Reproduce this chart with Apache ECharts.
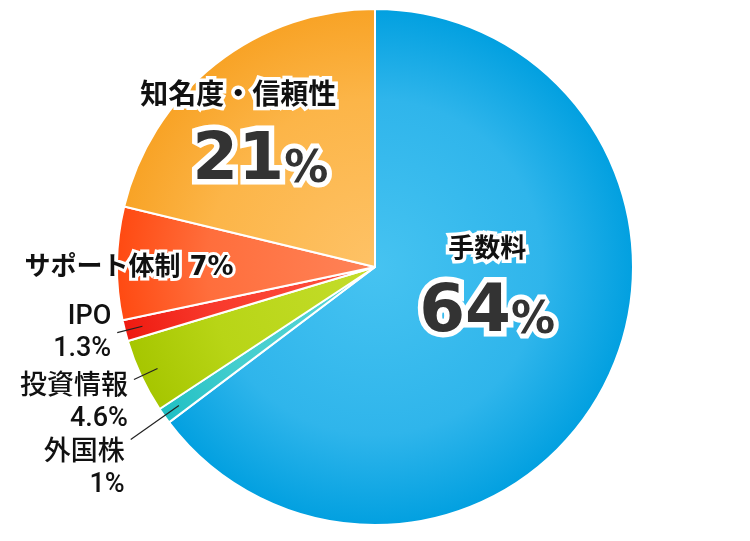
<!DOCTYPE html>
<html><head><meta charset="utf-8">
<script src="https://cdn.jsdelivr.net/npm/echarts@6/dist/echarts.min.js"></script>
<style>html,body{margin:0;padding:0;background:#fff}#c{width:750px;height:541px}</style>
</head><body><div id="c"></div>
<script>
// ---- data ----
const categories = ['手数料', '外国株', '投資情報', 'IPO', 'サポート体制', '知名度・信頼性'];
const values = [64, 1, 4.6, 1.3, 7, 21];

// ---- style ----
const CX = 375, CY = 267, R = 258, R_LINE = 240;
const SLICE_COLORS = [
  ['#46c3f1', '#2fb5eb', '#02a0e0'],
  ['#5ad6d6', '#44cece', '#20bfc4'],
  ['#c4dd2c', '#b8d516', '#a6c600'],
  ['#ff5540', '#f8392c', '#ee1a10'],
  ['#ff8358', '#ff6e3c', '#ff4a12'],
  ['#fec266', '#fcb548', '#f8a326']
];
// label kind per slice: 'big', 'inline', 'outside'
const LABEL_KIND = ['big', 'outside', 'outside', 'outside', 'inline', 'big2'];
const INSIDE_SHIFT = { 0: [-6, -39], 4: [-114, 3], 5: [-33, -30] };
const OUTSIDE_LINE_LEN = { 1: 59, 2: 26, 3: 26 };
const OUTSIDE_SHIFT = { 1: [0, 30], 2: [0, 24], 3: [0, 1] };

const NUM_FONT = "'DejaVu Sans', 'Noto Sans CJK JP'";
const CJK_FONT = "'Noto Sans CJK JP', 'DejaVu Sans'";
const richBig = {
  n: { fontFamily: CJK_FONT, fontWeight: 'bold', fontSize: 26, lineHeight: 39, color: '#111',
       textBorderColor: '#fff', textBorderWidth: 7 },
  n2: { fontFamily: CJK_FONT, fontWeight: 'bold', fontSize: 28, lineHeight: 44, color: '#111',
       textBorderColor: '#fff', textBorderWidth: 7, padding: [0, 44, 0, 0] },
  v: { fontFamily: NUM_FONT, fontWeight: 'bold', fontSize: 66, lineHeight: 80, color: '#333',
       textBorderColor: '#fff', textBorderWidth: 11, verticalAlign: 'bottom' },
  p: { fontFamily: NUM_FONT, fontWeight: 'bold', fontSize: 44, lineHeight: 80, color: '#333',
       textBorderColor: '#fff', textBorderWidth: 10, verticalAlign: 'bottom', padding: [0, 0, 3, 0] }
};

function grad(c) {
  return { type: 'radial', x: CX, y: CY, r: R, global: true,
    colorStops: [{ offset: 0, color: c[0] }, { offset: 0.65, color: c[1] }, { offset: 1, color: c[2] }] };
}

function mainLabel(i) {
  const k = LABEL_KIND[i];
  if (k === 'big' || k === 'big2') {
    const nm = k === 'big' ? 'n' : 'n2';
    return { show: true, position: 'inside',
      formatter: p => '{' + nm + '|' + p.name + '}\n{v|' + p.value + '}{p|%}', rich: richBig };
  }
  if (k === 'inline') {
    return { show: true, position: 'inside', formatter: p => p.name + ' ' + p.value + '%',
      fontFamily: NUM_FONT, fontWeight: 'bold', fontSize: 26, color: '#111',
      textBorderColor: '#fff', textBorderWidth: 6 };
  }
  return { show: false };
}

function outsideLabel(i) {
  const show = LABEL_KIND[i] === 'outside';
  return {
    label: show ? { show: true, position: 'outside', formatter: '{b}\n{c}%',
      fontFamily: "Roboto, 'Noto Sans CJK JP'", fontWeight: 500, fontSize: 27, lineHeight: 32,
      color: '#111', distanceToLabelLine: 6 } : { show: false },
    labelLine: show ? { show: true, length: OUTSIDE_LINE_LEN[i], length2: 0,
      lineStyle: { color: '#222', width: 1.2 } } : { show: false }
  };
}

const chart = echarts.init(document.getElementById('c'), null, { renderer: 'canvas' });
chart.setOption({
  animation: false,
  series: [
    {
      type: 'pie', z: 2, center: [CX, CY], radius: [0, R], startAngle: 90, clockwise: true,
      avoidLabelOverlap: false, silent: true,
      itemStyle: { borderColor: '#fff', borderWidth: 2 },
      labelLine: { show: false },
      data: categories.map((name, i) => ({
        name, value: values[i], itemStyle: { color: grad(SLICE_COLORS[i]) }, label: mainLabel(i)
      })),
      labelLayout: p => {
        const s = INSIDE_SHIFT[p.dataIndex];
        return s ? { dx: s[0], dy: s[1], hideOverlap: false } : { hideOverlap: false };
      }
    },
    {
      type: 'pie', z: 5, center: [CX, CY], radius: [0, R_LINE], startAngle: 90, clockwise: true,
      avoidLabelOverlap: false, silent: true,
      itemStyle: { color: 'rgba(0,0,0,0)', borderWidth: 0 },
      data: categories.map((name, i) => Object.assign({ name, value: values[i] }, outsideLabel(i))),
      labelLayout: p => {
        const s = OUTSIDE_SHIFT[p.dataIndex];
        return s ? { dx: s[0], dy: s[1], hideOverlap: false } : { hideOverlap: false };
      }
    }
  ]
});
</script></body></html>
